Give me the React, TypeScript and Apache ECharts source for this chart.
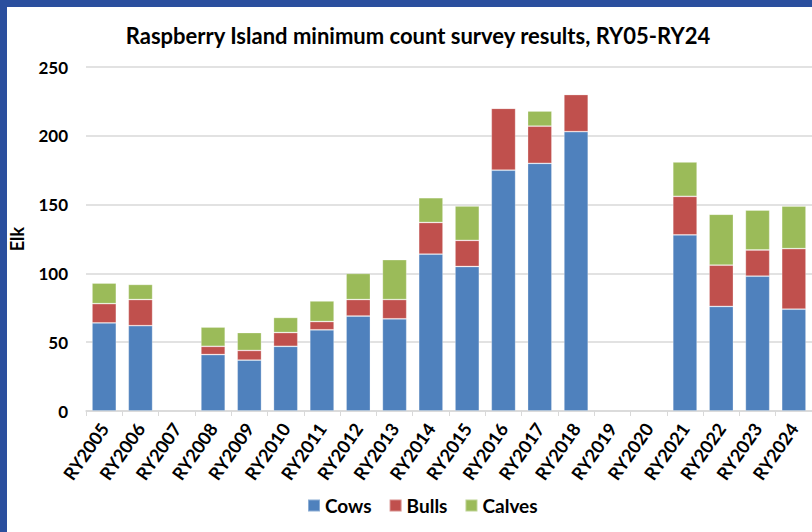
import React, { useEffect, useRef } from "react";
import * as echarts from "echarts";

const categories = [
  "RY2005", "RY2006", "RY2007", "RY2008", "RY2009", "RY2010", "RY2011", "RY2012", "RY2013", "RY2014",
  "RY2015", "RY2016", "RY2017", "RY2018", "RY2019", "RY2020", "RY2021", "RY2022", "RY2023", "RY2024",
];
const cows = [64, 62, null, 41, 37, 47, 59, 69, 67, 114, 105, 175, 180, 203, null, null, 128, 76, 98, 74];
const bulls = [14, 19, null, 6, 7, 10, 6, 12, 14, 23, 19, 45, 27, 27, null, null, 28, 30, 19, 44];
const calves = [15, 11, null, 14, 13, 11, 15, 19, 29, 18, 25, 0, 11, 0, null, null, 25, 37, 29, 31];
const yTicks = { min: 0, max: 250, interval: 50 };

const FONT = "Lato, 'Open Sans', sans-serif";

export default function App() {
  const ref = useRef<HTMLDivElement>(null);
  useEffect(() => {
    if (!ref.current) return;
    const chart = echarts.init(ref.current, null, { renderer: "svg" });
    const mk = (name: string, data: (number | null)[], color: string) => ({
      name,
      type: "bar",
      stack: "total",
      data,
      barCategoryGap: "33%",
      itemStyle: { color, borderColor: "rgba(255,255,255,0.35)", borderWidth: 0.8 },
    });
    chart.setOption({
      animation: false,
      backgroundColor: "#ffffff",
      textStyle: { fontFamily: FONT },
      title: {
        text: "Raspberry Island minimum count survey results, RY05-RY24",
        left: 413,
        textAlign: "center",
        top: 19,
        textStyle: { fontFamily: FONT, fontWeight: "bold", fontSize: 22, color: "#000" },
      },
      legend: {
        left: 302,
        top: 491,
        itemWidth: 12,
        itemHeight: 12,
        itemGap: 17,
        icon: "rect",
        textStyle: { fontFamily: FONT, fontWeight: "bold", fontSize: 19, color: "#000", padding: [0, 0, 0, 0] },
      },
      graphic: [
        { type: "rect", shape: { x: 0, y: 0, width: 7, height: 532 }, style: { fill: "#2b4f9e" } },
        { type: "rect", shape: { x: 0, y: 0, width: 812, height: 7 }, style: { fill: "#2b4f9e" } },
      ],
      grid: { left: 80, right: 0, top: 67, bottom: 121 },
      xAxis: {
        type: "category",
        data: categories,
        axisLine: { lineStyle: { color: "#d9d9d9", width: 1.5 } },
        axisTick: { show: true, alignWithLabel: false, length: 5, lineStyle: { color: "#d9d9d9" } },
        axisLabel: {
          rotate: 55,
          margin: 14,
          interval: 0,
          fontFamily: FONT,
          fontWeight: "bold",
          fontSize: 18,
          color: "#000",
        },
      },
      yAxis: {
        type: "value",
        min: yTicks.min,
        max: yTicks.max,
        interval: yTicks.interval,
        name: "Elk",
        nameLocation: "middle",
        nameGap: 60,
        nameRotate: 90,
        nameTextStyle: { fontFamily: FONT, fontWeight: "bold", fontSize: 18, color: "#000" },
        axisLine: { show: false },
        axisTick: { show: false },
        splitLine: { lineStyle: { color: "#d9d9d9", width: 1.5 } },
        axisLabel: { margin: 18, fontFamily: FONT, fontWeight: "bold", fontSize: 17, color: "#000" },
      },
      series: [mk("Cows", cows, "#4f81bd"), mk("Bulls", bulls, "#c0504d"), mk("Calves", calves, "#9bbb59")],
    });
    return () => chart.dispose();
  }, []);
  return (
    <div style={{ position: "fixed", left: 0, top: 0, width: 812, height: 532, background: "#fff" }}>
      <div ref={ref} style={{ width: 812, height: 532 }} />
    </div>
  );
}
